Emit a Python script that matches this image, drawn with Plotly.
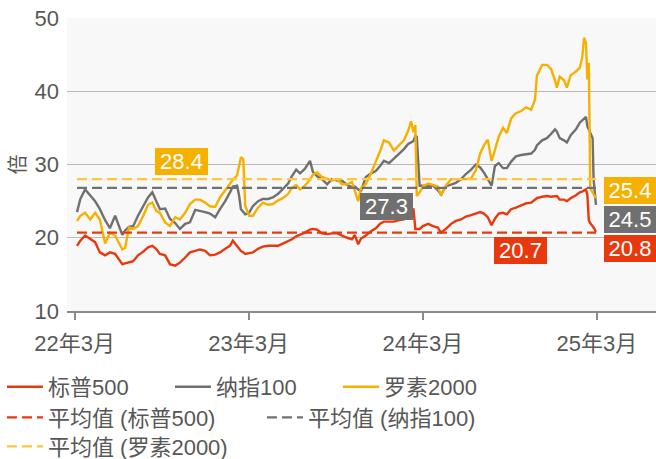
import plotly.graph_objects as go

dates = [
    "2022-03-06", "2022-03-13", "2022-03-23", "2022-04-03", "2022-04-13", "2022-04-23", "2022-05-04", "2022-05-14", "2022-05-25",
    "2022-06-09", "2022-06-15", "2022-06-23", "2022-07-02", "2022-07-12", "2022-07-23", "2022-08-02", "2022-08-11", "2022-08-19",
    "2022-08-27", "2022-09-07", "2022-09-17", "2022-09-28", "2022-10-08", "2022-10-19", "2022-10-29", "2022-11-09", "2022-11-19",
    "2022-11-30", "2022-12-10", "2022-12-21", "2022-12-31", "2023-01-11", "2023-01-21", "2023-01-27", "2023-02-05", "2023-02-09",
    "2023-02-13", "2023-02-18", "2023-02-22", "2023-03-02", "2023-03-10", "2023-03-21", "2023-03-31", "2023-04-11", "2023-04-21",
    "2023-05-02", "2023-05-12", "2023-05-23", "2023-05-31", "2023-06-09", "2023-06-17", "2023-06-27", "2023-07-08", "2023-07-14",
    "2023-07-23", "2023-08-02", "2023-08-13", "2023-08-23", "2023-09-03", "2023-09-13", "2023-09-24", "2023-10-04", "2023-10-10",
    "2023-10-17", "2023-10-23", "2023-11-02", "2023-11-13", "2023-11-23", "2023-12-02", "2023-12-10", "2023-12-21", "2023-12-31",
    "2024-01-11", "2024-01-21", "2024-01-30", "2024-02-05", "2024-02-10", "2024-02-14", "2024-02-17", "2024-02-23", "2024-03-01",
    "2024-03-12", "2024-03-22", "2024-04-01", "2024-04-08", "2024-04-18", "2024-04-29", "2024-05-09", "2024-05-20", "2024-05-30",
    "2024-06-10", "2024-06-20", "2024-06-29", "2024-07-07", "2024-07-15", "2024-07-23", "2024-07-30", "2024-08-07", "2024-08-16",
    "2024-08-24", "2024-09-02", "2024-09-12", "2024-09-23", "2024-10-03", "2024-10-14", "2024-10-22", "2024-10-26", "2024-11-06",
    "2024-11-16", "2024-11-25", "2024-12-03", "2024-12-07", "2024-12-13", "2024-12-22", "2024-12-28", "2025-01-05", "2025-01-16",
    "2025-01-24", "2025-01-29", "2025-02-02", "2025-02-06", "2025-02-09", "2025-02-12", "2025-02-15", "2025-02-20", "2025-02-22",
    "2025-02-27",
]

sp500 = [
    18.9, 19.6, 20.3, 19.8, 19.4, 18.0, 17.6, 18.0, 17.8,
    16.4, 16.5, 16.7, 16.8, 17.6, 18.1, 18.7, 18.9, 18.5,
    17.8, 17.6, 16.4, 16.2, 16.6, 17.3, 18.0, 18.2, 18.4,
    18.2, 17.6, 17.7, 18.0, 18.5, 18.9, 19.6, 18.9, 18.5,
    18.2, 18.0, 17.8, 17.9, 18.0, 18.5, 18.8, 18.9, 18.9,
    18.9, 19.2, 19.5, 19.8, 20.2, 20.4, 20.7, 21.1, 21.2,
    21.1, 20.6, 20.5, 20.6, 20.6, 20.3, 20.0, 19.8, 20.4,
    19.1, 19.9, 20.3, 20.9, 21.3, 21.9, 22.2, 22.2, 22.2,
    22.4, 22.5, 22.8, 23.3, 24.0, 21.2, 21.2, 21.2, 21.6,
    21.9, 21.6, 21.4, 20.7, 21.2, 21.9, 22.3, 22.5, 22.9,
    23.1, 23.3, 23.5, 23.3, 22.8, 21.7, 22.6, 23.3, 23.4,
    23.2, 23.9, 24.1, 24.4, 24.7, 24.8, 25.2, 25.4, 25.6,
    25.7, 25.6, 25.7, 25.7, 25.2, 25.2, 25.0, 25.4, 25.8,
    26.2, 26.3, 26.5, 26.6, 25.8, 22.4, 22.0, 21.6, 21.4,
    20.8,
]

ndx100 = [
    23.5, 25.3, 26.6, 25.8, 25.0, 23.9, 22.4, 21.3, 23.0,
    20.4, 21.0, 21.5, 21.6, 23.0, 24.4, 25.5, 26.2, 25.1,
    23.9, 24.0, 22.6, 22.0, 21.2, 21.9, 22.1, 23.8, 23.7,
    23.5, 23.3, 22.8, 23.9, 25.0, 26.2, 27.0, 27.1, 25.8,
    23.9, 23.5, 23.2, 23.4, 24.3, 25.0, 25.3, 25.3, 25.5,
    26.0, 26.6, 27.4, 28.4, 29.3, 28.8, 29.4, 30.5, 29.0,
    28.4, 28.0, 27.3, 28.0, 27.8, 27.8, 27.2, 26.9, 27.0,
    26.6, 26.4, 28.3, 28.8, 29.1, 29.8, 30.5, 30.2, 30.8,
    31.5, 32.1, 32.8, 33.0, 33.2, 33.9, 33.8, 27.1, 27.1,
    27.2, 27.1, 26.5, 25.9, 27.0, 27.3, 27.5, 28.0, 28.7,
    29.3, 30.0, 29.6, 28.9, 28.0, 27.1, 29.8, 30.2, 29.5,
    29.5, 30.4, 31.1, 31.3, 31.4, 31.5, 32.0, 32.6, 33.3,
    33.6, 34.2, 34.8, 34.5, 33.6, 33.3, 33.0, 34.0, 34.8,
    35.7, 36.0, 36.3, 36.5, 35.2, 34.8, 34.2, 33.6, 28.0,
    24.5,
]

r2000 = [
    22.3, 23.0, 23.4, 22.5, 23.4, 22.5, 19.2, 20.7, 20.3,
    18.4, 18.6, 21.4, 21.2, 21.6, 23.0, 24.5, 24.8, 23.7,
    23.4, 22.1, 21.6, 22.8, 22.5, 23.4, 24.6, 25.2, 25.2,
    24.8, 24.3, 24.2, 25.5, 26.5, 27.3, 27.9, 28.5, 29.8,
    31.0, 30.7, 24.4, 23.0, 23.0, 24.1, 24.8, 24.5, 24.6,
    25.1, 25.4, 26.0, 26.8, 27.2, 26.6, 27.1, 27.9, 28.6,
    28.9, 28.3, 28.0, 27.8, 28.0, 27.3, 27.3, 27.6, 26.4,
    25.0, 26.8, 27.3, 28.8, 30.3, 31.8, 33.3, 33.0, 31.9,
    32.7, 33.3, 34.6, 35.9, 34.4, 35.4, 25.7, 26.2, 27.0,
    27.4, 27.2, 27.0, 25.8, 27.1, 28.0, 28.0, 27.9, 28.0,
    28.1, 29.2, 31.5, 32.6, 33.4, 30.5, 32.0, 33.8, 35.0,
    34.3, 36.3, 37.0, 37.3, 37.8, 37.5, 38.8, 42.1, 43.6,
    43.6, 43.0, 41.5, 40.5, 42.0, 41.5, 40.5, 42.2, 42.7,
    43.2, 44.5, 47.3, 46.6, 41.6, 43.9, 26.8, 26.2, 25.9,
    25.4,
]

series_names = ["标普500", "纳指100", "罗素2000"]
avg_names = ["平均值 (标普500)", "平均值 (纳指100)", "平均值 (罗素2000)"]
avg_values = [20.7, 26.8, 28.0]
avg_labels = ["20.7", "27.3", "28.4"]
last_labels = ["20.8", "24.5", "25.4"]
tick_vals = ["2022-03-01", "2023-03-01", "2024-03-01", "2025-03-01"]
tick_text = ["22年3月", "23年3月", "24年3月", "25年3月"]

RED = "#e8380d"
GRAY = "#707070"
YELLOW = "#f5b000"
YELLOW_DASH = "#ffc53d"
TXT = "#585858"
FONT = "Liberation Sans, Noto Sans CJK SC, sans-serif"

fig = go.Figure()
for name, vals, col in zip(series_names, [sp500, ndx100, r2000], [RED, GRAY, YELLOW]):
    fig.add_trace(go.Scatter(x=dates, y=vals, mode="lines", name=name,
                             line=dict(color=col, width=2.4), legend="legend"))

avg_cols = [RED, GRAY, YELLOW_DASH]
avg_legends = ["legend2", "legend2", "legend3"]
for name, v, col, lg in zip(avg_names, avg_values, avg_cols, avg_legends):
    fig.add_trace(go.Scatter(x=[dates[0], dates[-1]], y=[v, v], mode="lines", name=name,
                             line=dict(color=col, width=2.2, dash="10px,5px"), legend=lg))

ann = []
ann.append(dict(x="2022-10-11", y=avg_values[2], yanchor="bottom", yshift=4, text=avg_labels[2], bg=YELLOW))
ann.append(dict(x="2023-12-15", y=avg_values[1], yanchor="top", yshift=-5, text=avg_labels[1], bg=GRAY))
ann.append(dict(x="2024-09-22", y=avg_values[0], yanchor="top", yshift=-4, text=avg_labels[0], bg=RED))
annotations = []
for a in ann:
    annotations.append(dict(x=a["x"], y=a["y"], xref="x", yref="y", xanchor="center", yanchor=a["yanchor"],
                            yshift=a["yshift"], text=a["text"], showarrow=False, bgcolor=a["bg"],
                            font=dict(color="white", size=22, family=FONT), width=53, height=27,
                            borderpad=0, borderwidth=0))
for txt, yv, col in zip([last_labels[2], last_labels[1], last_labels[0]], [26.4, 22.5, 18.5], [YELLOW, GRAY, RED]):
    annotations.append(dict(x=1, y=yv, xref="paper", yref="y", xanchor="right", yanchor="middle",
                            text=txt, showarrow=False, bgcolor=col,
                            font=dict(color="white", size=22, family=FONT), width=52, height=27,
                            borderpad=0, borderwidth=0))

leg_common = dict(orientation="h", xref="container", yref="container", xanchor="left", yanchor="middle",
                  font=dict(size=22, color=TXT, family=FONT), bgcolor="rgba(0,0,0,0)", borderwidth=0,
                  itemwidth=36, tracegroupgap=0)

fig.update_layout(
    width=656, height=459,
    margin=dict(l=67, r=0, t=18, b=148),
    paper_bgcolor="white",
    plot_bgcolor="#f8f8f8",
    font=dict(family=FONT, size=22, color=TXT),
    showlegend=True,
    legend=dict(leg_common, x=0.003, y=1 - 387 / 459, entrywidth=117),
    legend2=dict(leg_common, x=0.003, y=1 - 417.5 / 459, entrywidth=209),
    legend3=dict(leg_common, x=0.003, y=1 - 446.5 / 459),
    annotations=annotations,
    xaxis=dict(type="date", range=["2022-02-13", "2025-07-03"], tickvals=tick_vals, ticktext=tick_text,
               showgrid=False, showline=True, linecolor="#8a8a8a", linewidth=1.5, ticks="outside",
               ticklen=7, tickwidth=1.5, tickcolor="#8a8a8a", zeroline=False,
               tickfont=dict(size=22, color=TXT, family=FONT), ticklabelstandoff=5),
    yaxis=dict(range=[10, 50], dtick=10, showgrid=True, gridcolor="#b9b9b9", gridwidth=1,
               zeroline=False, showline=False, ticks="", ticklabelstandoff=7,
               tickfont=dict(size=22, color=TXT, family=FONT),
               title=dict(text="倍", font=dict(size=20, color=TXT, family=FONT), standoff=3)),
)

fig.write_html("out.html", config={"displayModeBar": False},
               post_script="document.body.style.margin='0px';document.body.style.padding='0px';")
